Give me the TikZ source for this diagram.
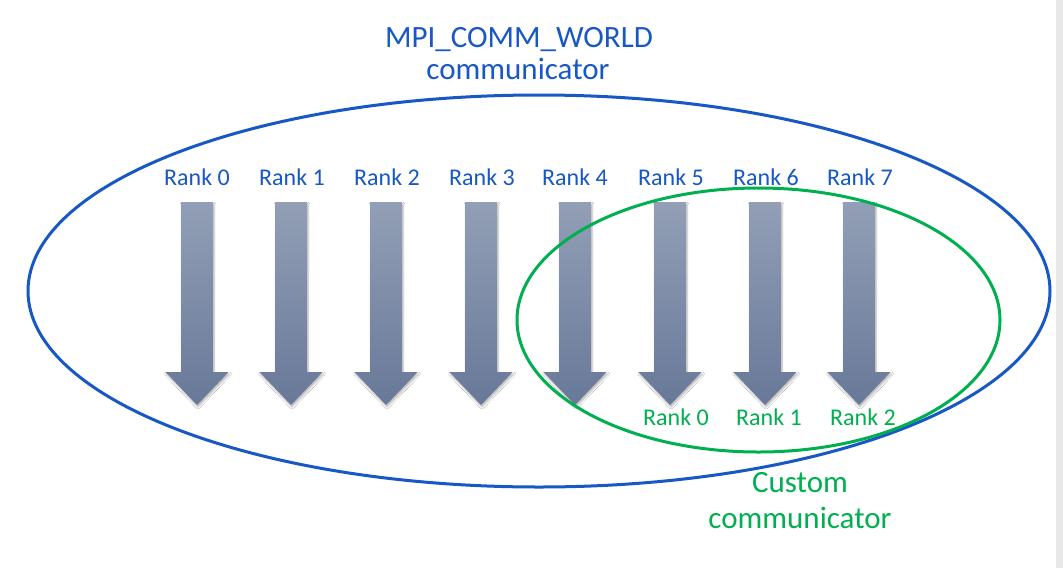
\documentclass[tikz,border=0pt]{standalone}
\usepackage{fontspec}
\setmainfont{Carlito}
\usetikzlibrary{shadows.blur}
\definecolor{mpiblue}{RGB}{24,88,196}
\definecolor{mpigreen}{RGB}{0,176,80}
\definecolor{arrtop}{RGB}{146,159,182}
\definecolor{arrbot}{RGB}{104,120,152}
\tikzset{
  ranklbl/.style={anchor=base, font=\fontsize{24}{28}\selectfont, inner sep=0pt},
  bluelbl/.style={ranklbl, text=mpiblue},
  greenlbl/.style={ranklbl, text=mpigreen},
  titlelbl/.style={anchor=base, font=\fontsize{31}{36}\selectfont, inner sep=0pt},
  procarrow/.style={top color=arrtop, bottom color=arrbot, draw=none,
    blur shadow={shadow xshift=1pt, shadow yshift=-2pt, shadow blur steps=6, shadow opacity=30}},
}
\begin{document}
\begin{tikzpicture}[x=1pt,y=-1pt]
\useasboundingbox (0,0) rectangle (1063,568);
\fill[white] (0,0) rectangle (1063,568);
\fill[black!9] (1056,0) rectangle (1063,568);
% arrows
\foreach \i/\x in {0/197,1/291,2/386,3/481,4/575,5/670,6/765,7/859}{
  \path[procarrow] (\x-16,202) -- (\x+16,202) -- (\x+16,372) -- (\x+31.5,372)
     -- (\x,405) -- (\x-31.5,372) -- (\x-16,372) -- cycle;
}
% top rank labels
\foreach \i/\x in {0/197,1/292,2/387,3/482,4/575,5/671,6/766,7/860}{
  \node[bluelbl] (r\i) at (\x,185) {Rank \i};
}
% green rank labels
\node[greenlbl] (g0) at (676,425) {Rank 0};
\node[greenlbl] (g1) at (769,425) {Rank 1};
\node[greenlbl] (g2) at (863,425) {Rank 2};
% ellipses
\draw[mpiblue, line width=3pt] (539,291) ellipse [x radius=511, y radius=196];
\draw[mpigreen, line width=3pt] (758.5,320) ellipse [x radius=241.5, y radius=132];
% titles
\node[titlelbl, text=mpiblue] (t1) at (519,47) {MPI\_COMM\_WORLD};
\node[titlelbl, text=mpiblue] (t2) at (518,79) {communicator};
\node[titlelbl, text=mpigreen] (c1) at (800,492) {Custom};
\node[titlelbl, text=mpigreen] (c2) at (800,528) {communicator};
\end{tikzpicture}
\end{document}
